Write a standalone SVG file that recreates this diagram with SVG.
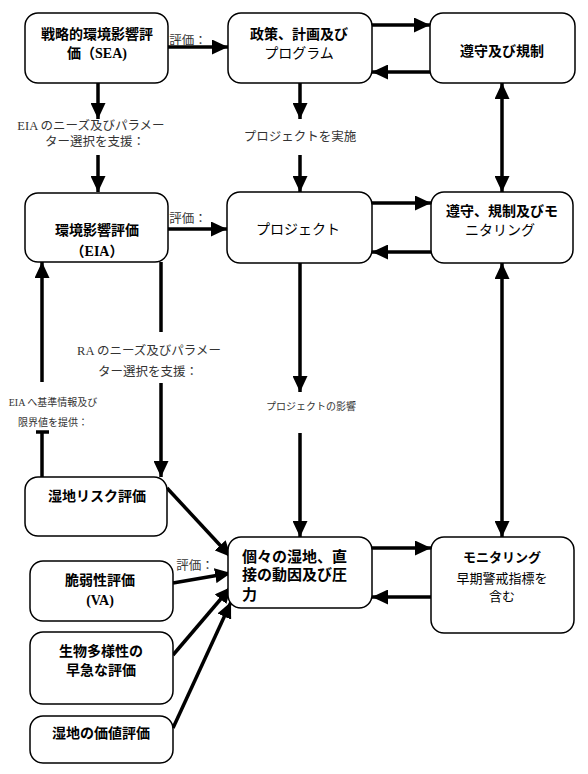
<svg xmlns="http://www.w3.org/2000/svg" width="588" height="774" viewBox="0 0 588 774">
<style>
.box{fill:#fff;stroke:#000;stroke-width:1.5}
.t{font-family:"Liberation Serif","Noto Sans CJK JP",sans-serif;font-size:14px;fill:#000;text-anchor:middle}
.b{font-weight:bold}
.l{font-family:"Liberation Serif","Noto Sans CJK JP",sans-serif;font-size:12.5px;fill:#333;text-anchor:middle}
.s{font-size:10px}
.c{fill:none;stroke:#000;stroke-width:3.5}
</style>
<defs>
<marker id="ah" markerUnits="userSpaceOnUse" markerWidth="16" markerHeight="15" refX="16" refY="7.5" orient="auto-start-reverse" viewBox="0 0 16 15">
<path d="M0,0 L16,7.5 L0,15 z" fill="#000"/>
</marker>
</defs>
<rect width="588" height="774" fill="#fff"/>
<g id="connectors">
<path class="c" d="M168,47 L228,47" marker-end="url(#ah)"/>
<path class="c" d="M372,25 L430,25" marker-end="url(#ah)"/>
<path class="c" d="M430,72 L372,72" marker-end="url(#ah)"/>
<path class="c" d="M300,83 L300,119" marker-end="url(#ah)"/>
<path class="c" d="M300,155 L300,192" marker-end="url(#ah)"/>
<path class="c" d="M98,83 L98,119" marker-end="url(#ah)"/>
<path class="c" d="M98,155 L98,192" marker-end="url(#ah)"/>
<path class="c" d="M168,229 L227,229" marker-end="url(#ah)"/>
<path class="c" d="M372,203 L431,203" marker-end="url(#ah)"/>
<path class="c" d="M431,252 L372,252" marker-end="url(#ah)"/>
<path class="c" d="M502,83 L502,192" marker-start="url(#ah)" marker-end="url(#ah)"/>
<path class="c" d="M502,263 L502,537" marker-start="url(#ah)" marker-end="url(#ah)"/>
<path class="c" d="M300,263 L300,392" marker-end="url(#ah)"/>
<path class="c" d="M300,433 L300,537" marker-end="url(#ah)"/>
<path class="c" d="M161,262 L161,332"/>
<path class="c" d="M161,383 L161,477" marker-end="url(#ah)"/>
<path class="c" d="M42,477 L42,432"/>
<path class="c" d="M36,432 L49,432"/>
<path class="c" d="M42,382 L42,262" marker-end="url(#ah)"/>
<path class="c" d="M167,488 L231,557" marker-end="url(#ah)"/>
<path class="c" d="M173,583 L231,573" marker-end="url(#ah)"/>
<path class="c" d="M173,655 L231,587" marker-end="url(#ah)"/>
<path class="c" d="M173,728 L231,602" marker-end="url(#ah)"/>
<path class="c" d="M372,548 L431,548" marker-end="url(#ah)"/>
<path class="c" d="M431,597 L372,597" marker-end="url(#ah)"/>
</g>
<g id="labels">
<text class="l" x="188" y="45">評価：</text>
<text class="l" x="91" y="130">EIA のニーズ及びパラメー</text>
<text class="l" x="95" y="146">ター選択を支援：</text>
<text class="l" x="300" y="141">プロジェクトを実施</text>
<text class="l" x="188" y="223">評価：</text>
<text class="l" x="149" y="355">RA のニーズ及びパラメー</text>
<text class="l" x="148" y="376">ター選択を支援：</text>
<text class="l s" x="53" y="406">EIA へ基準情報及び</text>
<text class="l s" x="53" y="426">限界値を提供：</text>
<text class="l s" x="311" y="410">プロジェクトの影響</text>
<text class="l" x="195" y="570">評価：</text>
</g>
<g id="sea">
<rect class="box" x="25" y="13" width="143" height="70" rx="13"/>
<text class="t b" x="97" y="39">戦略的環境影響評</text>
<text class="t b" x="97" y="58">価（SEA)</text>
</g>
<g id="policy">
<rect class="box" x="228" y="13" width="144" height="70" rx="13"/>
<text class="t b" x="299" y="39">政策、計画及び</text>
<text class="t" x="299" y="58">プログラム</text>
</g>
<g id="compliance">
<rect class="box" x="430" y="13" width="145" height="70" rx="13"/>
<text class="t b" x="502" y="56">遵守及び規制</text>
</g>
<g id="eia">
<rect class="box" x="25" y="193" width="143" height="69" rx="13"/>
<text class="t b" x="97" y="235">環境影響評価</text>
<text class="t b" x="97" y="256">（EIA）</text>
</g>
<g id="project">
<rect class="box" x="227" y="192" width="145" height="71" rx="13"/>
<text class="t" x="298" y="234">プロジェクト</text>
</g>
<g id="compliance-monitoring">
<rect class="box" x="431" y="192" width="142" height="71" rx="13"/>
<text class="t b" x="502" y="216">遵守、規制及びモ</text>
<text class="t" x="500" y="235">ニタリング</text>
</g>
<g id="risk">
<rect class="box" x="25" y="477" width="142" height="59" rx="13"/>
<text class="t b" x="97" y="501">湿地リスク評価</text>
</g>
<g id="va">
<rect class="box" x="30" y="561" width="143" height="60" rx="13"/>
<text class="t b" x="100" y="585">脆弱性評価</text>
<text class="t b" x="100" y="605">(VA)</text>
</g>
<g id="biodiversity">
<rect class="box" x="30" y="632" width="143" height="72" rx="13"/>
<text class="t b" x="101" y="656">生物多様性の</text>
<text class="t b" x="101" y="675">早急な評価</text>
</g>
<g id="value">
<rect class="box" x="30" y="716" width="143" height="47" rx="13"/>
<text class="t b" x="101" y="738">湿地の価値評価</text>
</g>
<g id="wetland">
<rect class="box" x="228" y="537" width="144" height="71" rx="13"/>
<text class="t b" x="242" y="562" style="text-anchor:start;font-size:15px">個々の湿地、直</text>
<text class="t b" x="242" y="580" style="text-anchor:start;font-size:15px">接の動因及び圧</text>
<text class="t b" x="242" y="600" style="text-anchor:start;font-size:15px">力</text>
</g>
<g id="monitoring">
<rect class="box" x="431" y="537" width="143" height="96" rx="13"/>
<text class="t b" x="502" y="562" style="font-size:13px">モニタリング</text>
<text class="t" x="502" y="583" style="font-size:13px">早期警戒指標を</text>
<text class="t" x="502" y="601" style="font-size:13px">含む</text>
</g>
</svg>
